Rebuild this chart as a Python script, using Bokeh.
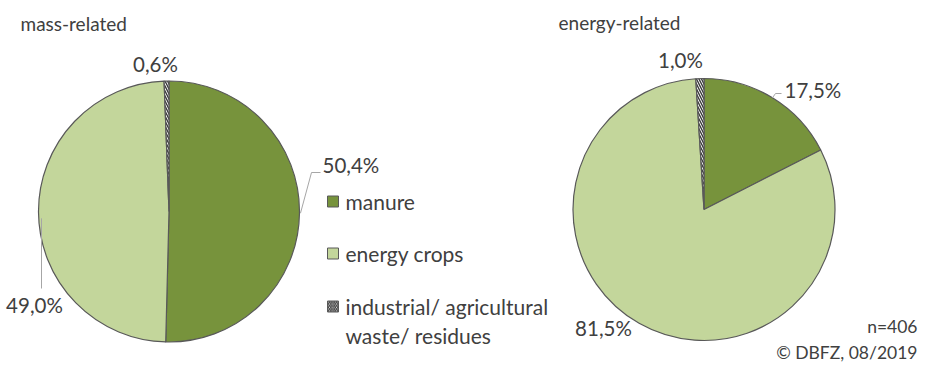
import math
from bokeh.plotting import figure
from bokeh.models import Range1d
from bokeh.core.properties import value
from bokeh.embed import file_html
from bokeh.resources import INLINE

# ---- data ----
categories = ["manure", "energy crops", "industrial/ agricultural waste/ residues"]
legend_lines = [["manure"], ["energy crops"], ["industrial/ agricultural", "waste/ residues"]]
mass_share = [50.4, 49.0, 0.6]
energy_share = [17.5, 81.5, 1.0]
titles = ["mass-related", "energy-related"]
note_lines = ["n=406", "© DBFZ, 08/2019"]

# ---- style ----
fills = ["#77933C", "#C3D69B", "#FFFFFF"]
hatches = [" ", " ", "left_diagonal_line"]
FONT = value("Lato")
TXT = "#404040"

W, H = 926, 367
def sx(x):
    return x
def sy(y):
    return H - y

p = figure(width=W, height=H, output_backend="svg", toolbar_location=None,
           x_range=Range1d(0, W), y_range=Range1d(0, H), min_border=0)
p.axis.visible = False
p.grid.visible = False
p.outline_line_color = None
p.background_fill_color = "white"
p.border_fill_color = "white"

def draw_pie(shares, cx, cy, r):
    total = sum(shares)
    starts, ends, mids = [], [], []
    acc = 0.0
    for v in shares:
        a0 = math.pi / 2 - acc / total * 2 * math.pi
        acc += v
        a1 = math.pi / 2 - acc / total * 2 * math.pi
        starts.append(a0); ends.append(a1); mids.append((a0 + a1) / 2)
    for i in range(len(shares)):
        p.wedge(x=[sx(cx)], y=[sy(cy)], radius=r, start_angle=[starts[i]], end_angle=[ends[i]],
                direction="clock", fill_color=fills[i], line_color="#595959", line_width=1.2,
                hatch_pattern=hatches[i], hatch_color="#3A3A3A", hatch_scale=5, hatch_weight=1.4)
    return mids

def fmt(v):
    return f"{v:.1f}".replace(".", ",") + "%"

def label(txt, x, y, align="center", size="20.5px"):
    p.text(x=[sx(x)], y=[sy(y)], text=[txt], text_font=FONT, text_font_size=size,
           text_color=TXT, text_align=align, text_baseline="middle")

# left pie
L = (168.5, 211, 130.5)
mids_l = draw_pie(mass_share, *L)
# right pie
R = (703.5, 209, 131)
mids_r = draw_pie(energy_share, *R)

def edge(c, a, off=0):
    cx, cy, r = c
    return cx + (r + off) * math.cos(a), cy - (r + off) * math.sin(a)

lc = "#A6A6A6"
# leader 50,4%
ex, ey = edge(L, mids_l[0], 1)
p.line([sx(ex), sx(311), sx(320)], [sy(ey), sy(172), sy(172)], line_color=lc, line_width=1)
# leader 49,0%
ex, ey = edge(L, mids_l[1], -1)
p.line([sx(ex + 2), sx(ex + 2)], [sy(ey + 6), sy(288)], line_color=lc, line_width=1)
# leader 17,5%
ex, ey = edge(R, mids_r[0], 0)
p.line([sx(ex), sx(775), sx(781)], [sy(ey), sy(93), sy(93)], line_color=lc, line_width=1)

# value labels
label(fmt(mass_share[2]), 155, 63)
label(fmt(mass_share[0]), 322, 164, align="left")
label(fmt(mass_share[1]), 34, 304)
label(fmt(energy_share[2]), 680, 59)
label(fmt(energy_share[0]), 784, 89, align="left")
label(fmt(energy_share[1]), 603, 327)

# titles
label(titles[0], 20, 23, align="left", size="19px")
label(titles[1], 558, 22, align="left", size="19px")

# legend
leg_y = [201, 253, 306]
for i, lines in enumerate(legend_lines):
    p.scatter(x=[sx(332.5)], y=[sy(leg_y[i])], marker="square", size=11,
              fill_color=fills[i], line_color="#595959", line_width=1,
              hatch_pattern=hatches[i], hatch_color="#3A3A3A", hatch_scale=3.5, hatch_weight=1.2)
    for j, t in enumerate(lines):
        label(t, 345, leg_y[i] + j * 29, align="left", size="21px")

# note
label(note_lines[0], 917, 326, align="right", size="17.5px")
label(note_lines[1], 917, 352, align="right", size="17.5px")

open("out.html", "w").write(file_html(p, INLINE))
